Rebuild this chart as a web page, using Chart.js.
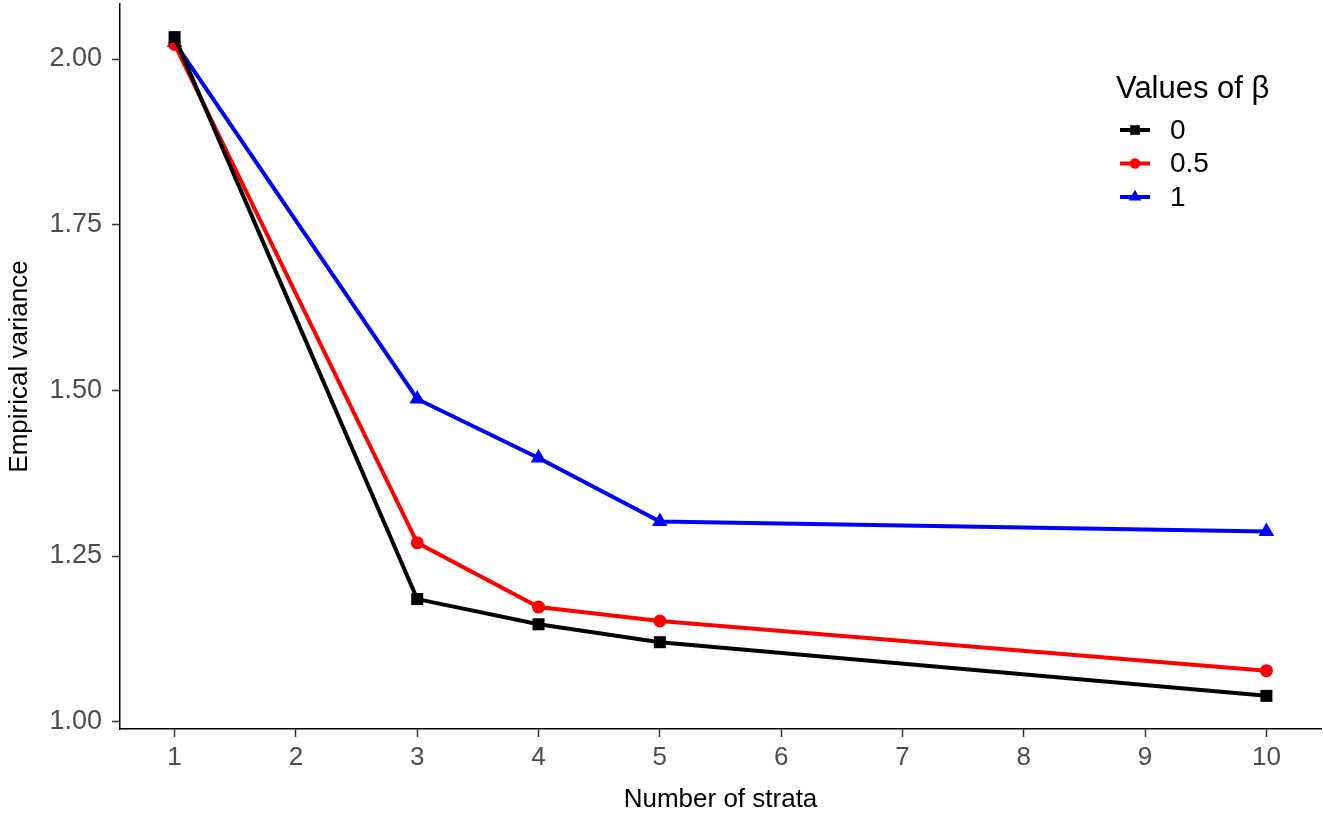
<!DOCTYPE html>
<html>
<head>
<meta charset="utf-8">
<script src="https://cdn.jsdelivr.net/npm/chart.js@4"></script>
<style>
  html, body { margin: 0; padding: 0; background: #fff; }
  #wrap { width: 1323px; height: 819px; }
</style>
</head>
<body>
<div id="wrap"><canvas id="chart" width="1323" height="819"></canvas></div>
<script>
// número de estratos
const strata = [1, 3, 4, 5, 10];
// variância empírica para cada beta
const beta0 = [2.033, 1.185, 1.147, 1.120, 1.039];
const beta05 = [2.022, 1.270, 1.173, 1.152, 1.077];
const beta1 = [2.025, 1.487, 1.398, 1.302, 1.287];
const seriesNames = ['0', '0.5', '1'];
const xTicks = [1, 2, 3, 4, 5, 6, 7, 8, 9, 10];
const yTicks = [1.00, 1.25, 1.50, 1.75, 2.00];

const fonte = '"Liberation Sans", Arial, sans-serif';
const cores = ['#000000', '#ff0000', '#0000ff'];
const estilos = ['rect', 'circle', 'triangle'];
const raios = [8.5, 6.5, 9];

function serie(vals, i) {
    return {
        label: seriesNames[i],
        data: strata.map((x, k) => ({ x: x, y: vals[k] })),
        borderColor: cores[i],
        backgroundColor: cores[i],
        borderWidth: 4,
        pointStyle: estilos[i],
        pointRadius: raios[i],
        pointBorderWidth: 0,
        pointHoverRadius: raios[i],
        tension: 0,
        clip: false
    };
}

// legenda desenhada dentro da área do gráfico
const legendaDentro = {
    id: 'legendaDentro',
    afterDraw(chart) {
        const ctx = chart.ctx;
        ctx.save();
        ctx.fillStyle = '#000';
        ctx.textBaseline = 'middle';
        ctx.textAlign = 'left';
        ctx.font = '31px ' + fonte;
        ctx.fillText('Values of \u03b2', 1116, 89);
        ctx.font = '28px ' + fonte;
        chart.data.datasets.forEach((ds, i) => {
            const y = 130 + i * 33.5;
            ctx.strokeStyle = ds.borderColor;
            ctx.lineWidth = 4;
            ctx.beginPath();
            ctx.moveTo(1120, y);
            ctx.lineTo(1150, y);
            ctx.stroke();
            ctx.fillStyle = ds.backgroundColor;
            Chart.helpers.drawPoint(ctx, { pointStyle: ds.pointStyle, radius: ds.pointRadius * 0.8, borderWidth: 0 }, 1135, y);
            ctx.fillStyle = '#000';
            ctx.fillText(ds.label, 1170, y + 1);
        });
        ctx.restore();
    }
};

new Chart(document.getElementById('chart'), {
    type: 'line',
    data: {
        datasets: [serie(beta0, 0), serie(beta05, 1), serie(beta1, 2)]
    },
    options: {
        responsive: false,
        animation: false,
        layout: { autoPadding: false, padding: { top: 4, right: 2, left: 0, bottom: 0 } },
        plugins: {
            legend: { display: false },
            tooltip: { enabled: false }
        },
        scales: {
            x: {
                type: 'linear',
                min: 0.55,
                max: 10.45,
                afterFit(scale) {
                    scale.height = 90;
                    scale.paddingLeft = 0;
                    scale.paddingRight = 0;
                },
                afterBuildTicks(scale) { scale.ticks = xTicks.map(v => ({ value: v })); },
                border: { display: true, color: '#000', width: 1.5 },
                grid: { drawOnChartArea: false, drawTicks: true, tickLength: 8, tickColor: '#333', tickWidth: 1.5 },
                ticks: {
                    color: '#4d4d4d',
                    font: { family: fonte, size: 26 },
                    padding: 5,
                    maxRotation: 0,
                    callback: v => String(v)
                },
                title: {
                    display: true,
                    text: 'Number of strata',
                    color: '#000',
                    font: { family: fonte, size: 26 }
                }
            },
            y: {
                type: 'linear',
                min: 0.989,
                max: 2.083,
                afterFit(scale) {
                    scale.width = 120;
                    scale.paddingTop = 0;
                    scale.paddingBottom = 0;
                },
                afterBuildTicks(scale) { scale.ticks = yTicks.map(v => ({ value: v })); },
                border: { display: true, color: '#000', width: 1.5 },
                grid: { drawOnChartArea: false, drawTicks: true, tickLength: 8, tickColor: '#333', tickWidth: 1.5 },
                ticks: {
                    color: '#4d4d4d',
                    font: { family: fonte, size: 27 },
                    padding: 10,
                    callback: v => v.toFixed(2)
                },
                title: {
                    display: true,
                    text: 'Empirical variance',
                    color: '#000',
                    font: { family: fonte, size: 26 }
                }
            }
        }
    },
    plugins: [legendaDentro]
});
</script>
</body>
</html>
